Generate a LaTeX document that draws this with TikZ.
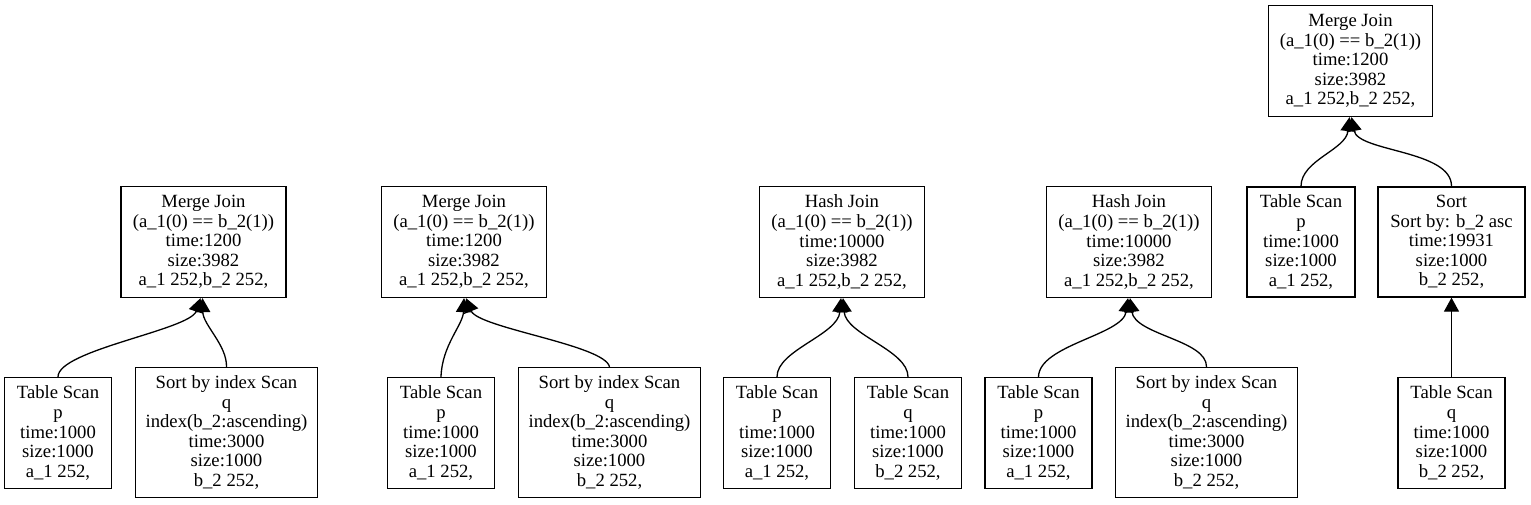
\documentclass[tikz,border=0pt]{standalone}
\usepackage{fontspec}
\setmainfont{Liberation Serif}
\newfontfamily\tnr{Liberation Serif}
\usetikzlibrary{arrows.meta}
\begin{document}
\begin{tikzpicture}[x=1pt,y=-1pt,
  box/.style={draw, line width=1.3pt, align=center, inner sep=2pt,
    font=\tnr\fontsize{18.67}{19.6}\selectfont},
  jbox/.style={box, minimum width=165, minimum height=111},
  sbox/.style={box, minimum width=107, minimum height=111},
  ibox/.style={box, minimum width=182, minimum height=130},
  edge/.style={line width=1.3pt, -{Triangle[length=14pt,width=15pt]}}]
\useasboundingbox (0,0) rectangle (1531,504);

% ---------- graph 1
\node[jbox] (mj1) at (203.5,242) {Merge Join\\(a\_1(0) == b\_2(1))\\time:1200\\size:3982\\a\_1 252,b\_2 252,};
\node[sbox] (tp1) at (58,433) {Table Scan\\p\\time:1000\\size:1000\\a\_1 252,};
\node[ibox] (sq1) at (226.5,432.5) {Sort by index Scan\\q\\index(b\_2:ascending)\\time:3000\\size:1000\\b\_2 252,};
\coordinate (t1a) at ([xshift=-3]mj1.south);
\coordinate (t1b) at ([xshift=-1]mj1.south);
\draw[edge] (tp1.north) .. controls (58,350) and (190,330) .. (t1a);
\draw[edge] (sq1.north) .. controls (227,345) and (203,325) .. (t1b);

% ---------- graph 2
\node[jbox] (mj2) at (464,242) {Merge Join\\(a\_1(0) == b\_2(1))\\time:1200\\size:3982\\a\_1 252,b\_2 252,};
\node[sbox] (tp2) at (441,433) {Table Scan\\p\\time:1000\\size:1000\\a\_1 252,};
\node[ibox] (sq2) at (609.5,432.5) {Sort by index Scan\\q\\index(b\_2:ascending)\\time:3000\\size:1000\\b\_2 252,};
\coordinate (t2a) at ([xshift=0]mj2.south);
\coordinate (t2b) at ([xshift=2]mj2.south);
\draw[edge] (tp2.north) .. controls (442,345) and (463,325) .. (t2a);
\draw[edge] (sq2.north) .. controls (605,345) and (478,328) .. (t2b);

% ---------- graph 3
\node[jbox] (hj3) at (842,242) {Hash Join\\(a\_1(0) == b\_2(1))\\time:10000\\size:3982\\a\_1 252,b\_2 252,};
\node[sbox] (tp3) at (777,433) {Table Scan\\p\\time:1000\\size:1000\\a\_1 252,};
\node[sbox] (tq3) at (908,433) {Table Scan\\q\\time:1000\\size:1000\\b\_2 252,};
\coordinate (t3a) at ([xshift=-1]hj3.south);
\coordinate (t3b) at ([xshift=1]hj3.south);
\draw[edge] (tp3.north) .. controls (777,350) and (838,335) .. (t3a);
\draw[edge] (tq3.north) .. controls (908,350) and (846,335) .. (t3b);

% ---------- graph 4
\node[jbox] (hj4) at (1129,242) {Hash Join\\(a\_1(0) == b\_2(1))\\time:10000\\size:3982\\a\_1 252,b\_2 252,};
\node[sbox] (tp4) at (1038.5,433) {Table Scan\\p\\time:1000\\size:1000\\a\_1 252,};
\node[ibox] (sq4) at (1206.5,432.5) {Sort by index Scan\\q\\index(b\_2:ascending)\\time:3000\\size:1000\\b\_2 252,};
\coordinate (t4a) at ([xshift=-1]hj4.south);
\coordinate (t4b) at ([xshift=1]hj4.south);
\draw[edge] (tp4.north) .. controls (1039,345) and (1123,335) .. (t4a);
\draw[edge] (sq4.north) .. controls (1207,340) and (1135,335) .. (t4b);

% ---------- graph 5
\node[jbox, minimum width=164] (mj5) at (1350.5,61) {Merge Join\\(a\_1(0) == b\_2(1))\\time:1200\\size:3982\\a\_1 252,b\_2 252,};
\node[sbox, minimum width=108, minimum height=110] (tp5) at (1301,242) {Table Scan\\p\\time:1000\\size:1000\\a\_1 252,};
\node[box, minimum width=147, minimum height=110] (so5) at (1451.5,242) {Sort\\Sort by: b\_2 asc\\time:19931\\size:1000\\b\_2 252,};
\node[sbox] (tq5) at (1451.5,433) {Table Scan\\q\\time:1000\\size:1000\\b\_2 252,};
\coordinate (t5a) at ([xshift=-1]mj5.south);
\coordinate (t5b) at ([xshift=1]mj5.south);
\draw[edge] (tp5.north) .. controls (1301,160) and (1346,150) .. (t5a);
\draw[edge] (so5.north) .. controls (1452,150) and (1358,152) .. (t5b);
\draw[edge] (tq5.north) -- (so5.south);
\end{tikzpicture}
\end{document}
